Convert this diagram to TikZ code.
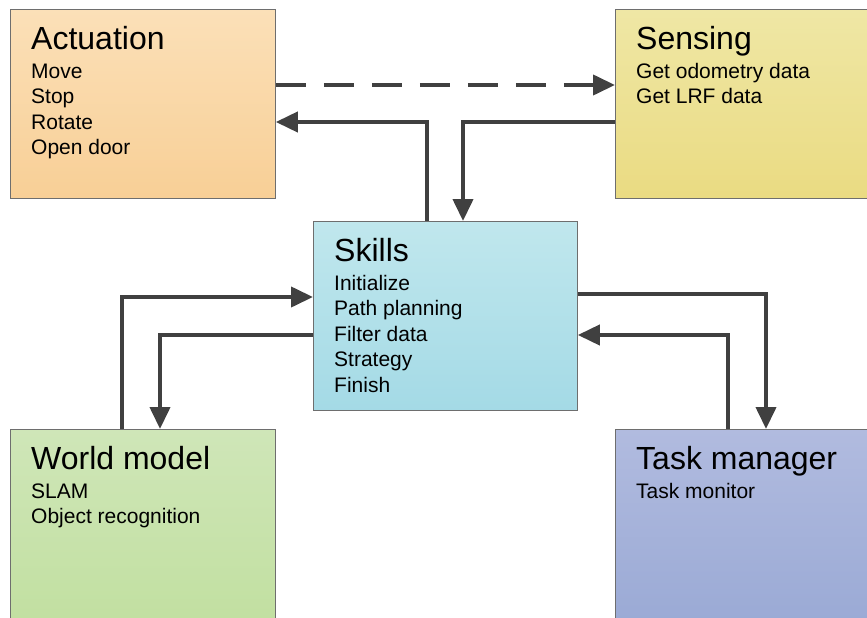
\documentclass[tikz,border=0pt]{standalone}
\usepackage{fontspec}
\setmainfont{Liberation Sans}
\usetikzlibrary{arrows.meta}

\definecolor{linegray}{RGB}{64,64,64}
\definecolor{boxedge}{RGB}{110,110,110}

\begin{document}
\begin{tikzpicture}[x=1pt,y=-1pt,
  block/.style={draw=boxedge, line width=0.8pt, rectangle, inner sep=0pt,
                anchor=north west},
  blocktitle/.style={anchor=base west, inner sep=0pt,
                     font=\fontsize{32}{38}\selectfont},
  blockitems/.style={anchor=base west, inner sep=0pt, align=left,
                     font=\fontsize{21}{25.5}\selectfont},
  conn/.style={draw=linegray, line width=4pt,
               -{Triangle[length=22pt,width=20pt]}},
  dashconn/.style={conn, dash pattern=on 30pt off 18pt}
]
\clip (0,0) rectangle (867,618);

% module boxes
\node[block, minimum width=265pt, minimum height=189pt,
      top color={rgb,255:red,251;green,224;blue,184},
      bottom color={rgb,255:red,248;green,207;blue,150}] (act) at (10,9) {};
\node[block, minimum width=280pt, minimum height=189pt,
      top color={rgb,255:red,239;green,231;blue,165},
      bottom color={rgb,255:red,234;green,219;blue,130}] (sens) at (615,9) {};
\node[block, minimum width=264pt, minimum height=189pt,
      top color={rgb,255:red,192;green,231;blue,237},
      bottom color={rgb,255:red,164;green,218;blue,230}] (skills) at (313,221) {};
\node[block, minimum width=265pt, minimum height=215pt,
      top color={rgb,255:red,207;green,230;blue,184},
      bottom color={rgb,255:red,192;green,223;blue,158}] (world) at (10,429) {};
\node[block, minimum width=280pt, minimum height=215pt,
      top color={rgb,255:red,177;green,187;blue,223},
      bottom color={rgb,255:red,152;green,168;blue,212}] (task) at (615,429) {};

% titles and item lists (item nodes are placed by the baseline of their last line)
\node[blocktitle] (actT) at ([xshift=21pt,yshift=-40pt]act.north west) {Actuation};
\node[blockitems] (actL) at ([xshift=21pt,yshift=-145.5pt]act.north west)
  {Move\\Stop\\Rotate\\Open door};

\node[blocktitle] (sensT) at ([xshift=21pt,yshift=-40pt]sens.north west) {Sensing};
\node[blockitems] (sensL) at ([xshift=21pt,yshift=-94.5pt]sens.north west)
  {Get odometry data\\Get LRF data};

\node[blocktitle] (skillsT) at ([xshift=21pt,yshift=-40pt]skills.north west) {Skills};
\node[blockitems] (skillsL) at ([xshift=21pt,yshift=-171pt]skills.north west)
  {Initialize\\Path planning\\Filter data\\Strategy\\Finish};

\node[blocktitle] (worldT) at ([xshift=21pt,yshift=-40pt]world.north west) {World model};
\node[blockitems] (worldL) at ([xshift=21pt,yshift=-94.5pt]world.north west)
  {SLAM\\Object recognition};

\node[blocktitle] (taskT) at ([xshift=21pt,yshift=-40pt]task.north west) {Task manager};
\node[blockitems] (taskL) at ([xshift=21pt,yshift=-69pt]task.north west)
  {Task monitor};

% routing levels of the connectors
\coordinate (dashY) at (0,85);
\coordinate (k1) at (427,122);
\coordinate (k2) at (463,122);
\coordinate (k3) at (122,297);
\coordinate (k4) at (160,335);
\coordinate (k5) at (766,294);
\coordinate (k6) at (728,335);

% connectors
\draw[dashconn] (act.east |- dashY) -- (sens.west |- dashY);
\draw[conn] (skills.north -| k1) |- (act.east |- k1);
\draw[conn] (sens.west |- k2) -| (skills.north -| k2);
\draw[conn] (world.north -| k3) |- (skills.west |- k3);
\draw[conn] (skills.west |- k4) -| (world.north -| k4);
\draw[conn] (skills.east |- k5) -| (task.north -| k5);
\draw[conn] (task.north -| k6) |- (skills.east |- k6);
\end{tikzpicture}
\end{document}
